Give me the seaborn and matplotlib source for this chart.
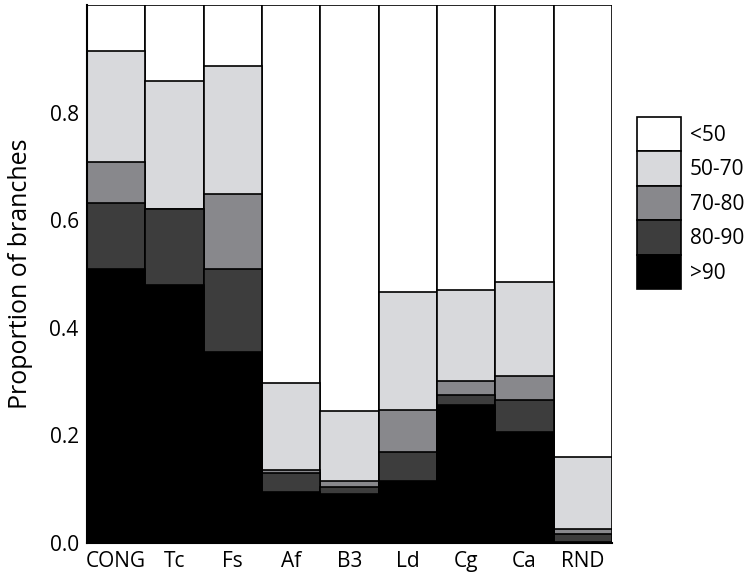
import numpy as np
import pandas as pd
import matplotlib
matplotlib.use('Agg')
import matplotlib.pyplot as plt
import seaborn as sns
from matplotlib.patches import Rectangle

# ---- DATA ----
datasets = ['CONG', 'Tc', 'Fs', 'Af', 'B3', 'Ld', 'Cg', 'Ca', 'RND']
support_bins = ['>90', '80-90', '70-80', '50-70', '<50']   # bottom -> top

gt90    = [0.509, 0.480, 0.356, 0.094, 0.091, 0.115, 0.257, 0.207, 0.002]
s80_90  = [0.124, 0.142, 0.153, 0.036, 0.014, 0.055, 0.019, 0.059, 0.014]
s70_80  = [0.076, 0.000, 0.141, 0.005, 0.011, 0.077, 0.026, 0.044, 0.010]
s50_70  = [0.207, 0.238, 0.238, 0.162, 0.130, 0.220, 0.168, 0.175, 0.134]
lt50    = [0.084, 0.140, 0.112, 0.703, 0.754, 0.533, 0.530, 0.515, 0.840]

bin_colors = {'>90': '#000000', '80-90': '#3d3d3d', '70-80': '#88888c',
              '50-70': '#d8d9dc', '<50': '#ffffff'}

df = pd.DataFrame({'dataset': datasets, '>90': gt90, '80-90': s80_90,
                   '70-80': s70_80, '50-70': s50_70, '<50': lt50})
cum = df[support_bins].cumsum(axis=1)
cum['dataset'] = df['dataset']

# ---- PLOT ----
sns.set_style('white')
plt.rcParams['font.family'] = ['Open Sans', 'DejaVu Sans']
for k in ['text.color', 'axes.labelcolor', 'xtick.color', 'ytick.color']:
    plt.rcParams[k] = 'black'

fig = plt.figure(figsize=(7.5, 5.78), dpi=100)
ax = fig.add_axes([0.116, 0.0606, 0.70, 0.930])

# draw from the top level down so lower levels sit on top
for b in reversed(support_bins):
    sns.barplot(data=cum, x='dataset', y=b, color=bin_colors[b], width=1.0,
                saturation=1, edgecolor='black', linewidth=1.2,
                errorbar=None, ax=ax)

ax.set_xlim(-0.5, len(datasets) - 0.5)
ax.set_ylim(0, 1.0)
ax.set_yticks([0.0, 0.2, 0.4, 0.6, 0.8])
ax.set_yticklabels(['0.0', '0.2', '0.4', '0.6', '0.8'])
ax.tick_params(axis='both', length=0, labelsize=15, pad=6)
ax.set_xlabel('')
ax.set_ylabel('Proportion of branches', fontsize=18, labelpad=12)
for s in ['top', 'right']:
    ax.spines[s].set_visible(False)
for s in ['left', 'bottom']:
    ax.spines[s].set_color('black')
    ax.spines[s].set_linewidth(1.5)

handles = [Rectangle((0, 0), 1, 1, facecolor=bin_colors[b], edgecolor='black',
                     linewidth=1.2) for b in reversed(support_bins)]
ax.legend(handles, list(reversed(support_bins)), loc='upper left',
          bbox_to_anchor=(0.849, 0.7976), bbox_transform=fig.transFigure,
          frameon=False, fontsize=15, handlelength=2.11, handleheight=2.17,
          labelspacing=0.0, handletextpad=0.45, borderpad=0, borderaxespad=0)

fig.savefig('out.png', dpi=100)
